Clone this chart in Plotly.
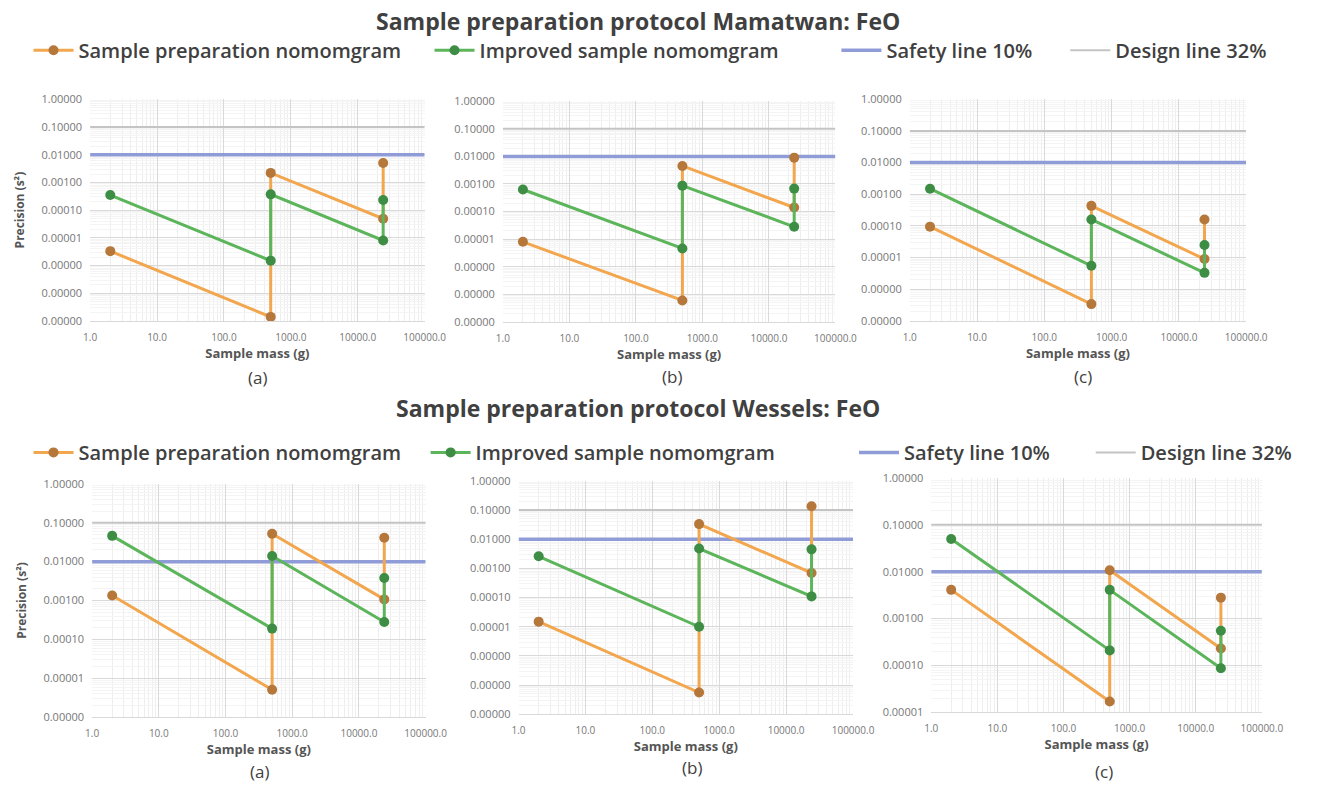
import plotly.graph_objects as go

# Sample masses of the three preparation stages (each step drawn twice to give the vertical jumps)
mass_steps = [2, 500, 500, 24000, 24000]
mass_range = [1, 100000]

# Precision (s^2) values, Mamatwan FeO protocol
mam_a_prep = [3.3e-6, 1.4e-8, 2.2e-3, 4.9e-5, 5.0e-3]
mam_a_impr = [3.5e-4, 1.5e-6, 3.7e-4, 8.0e-6, 2.3e-4]
mam_b_prep = [8.0e-6, 6.0e-8, 4.5e-3, 1.4e-4, 9.0e-3]
mam_b_impr = [6.3e-4, 4.6e-6, 8.7e-4, 2.8e-5, 6.8e-4]
mam_c_prep = [9.5e-5, 3.4e-7, 4.3e-4, 9.0e-6, 1.6e-4]
mam_c_impr = [1.5e-3, 5.5e-6, 1.6e-4, 3.3e-6, 2.5e-5]

# Precision (s^2) values, Wessels FeO protocol
wes_a_prep = [1.35e-3, 5.1e-6, 0.052, 1.07e-3, 0.041]
wes_a_impr = [0.046, 1.9e-4, 0.014, 2.8e-4, 3.8e-3]
wes_b_prep = [1.5e-5, 5.6e-8, 0.033, 7.0e-4, 0.135]
wes_b_impr = [2.6e-3, 1.0e-5, 4.8e-3, 1.1e-4, 4.5e-3]
wes_c_prep = [4.1e-3, 1.7e-5, 0.0107, 2.3e-4, 2.8e-3]
wes_c_impr = [0.05, 2.1e-4, 4.1e-3, 8.7e-5, 5.5e-4]

safety_level = 0.01   # 10% relative error -> s^2 = 0.01
design_level = 0.1    # 32% relative error -> s^2 ~ 0.1

panel_letters = ["(a)", "(b)", "(c)", "(a)", "(b)", "(c)"]
y_decades = [-8, -8, -7, -6, -8, -5]

titles = ["Sample preparation protocol Mamatwan: FeO",
          "Sample preparation protocol Wessels: FeO"]
legend_names = ["Sample preparation nomomgram", "Improved sample nomomgram",
                "Safety line 10%", "Design line 32%"]

W, H = 1322, 791

# pixel boxes of the six plot areas: (left, right, top, bottom)
boxes = [
    (85, 427, 93, 319),
    (507, 847, 95, 320),
    (923, 1267, 93, 319),
    (87, 428, 485, 723),
    (523, 865, 482, 720),
    (945, 1283, 479, 718),
]

panels = [
    (mam_a_prep, mam_a_impr), (mam_b_prep, mam_b_impr), (mam_c_prep, mam_c_impr),
    (wes_a_prep, wes_a_impr), (wes_b_prep, wes_b_impr), (wes_c_prep, wes_c_impr),
]

ORANGE_LINE = "#f2a64e"
ORANGE_MARK = "#b5773a"
GREEN_LINE = "#5cb55a"
GREEN_MARK = "#3e8d44"
SAFETY = "#8f9cd8"
DESIGN = "#c4c4c4"
TEXT = "#404040"
TICK = "#777777"
FONT = "Open Sans"

fig = go.Figure()
layout = {}

for i, (prep, impr) in enumerate(panels):
    n = "" if i == 0 else str(i + 1)
    xa, ya = "x" + n, "y" + n
    row = 0 if i < 3 else 1
    first = i % 3 == 0
    leg_base = 4 * row

    def lg(k):
        idx = leg_base + k
        return "legend" if idx == 0 else "legend" + str(idx + 1)

    fig.add_trace(go.Scatter(
        x=mass_range, y=[design_level] * 2, xaxis=xa, yaxis=ya, mode="lines",
        line=dict(color=DESIGN, width=2), name=legend_names[3],
        showlegend=first, legend=lg(3), hoverinfo="skip"))
    fig.add_trace(go.Scatter(
        x=mass_range, y=[safety_level] * 2, xaxis=xa, yaxis=ya, mode="lines",
        line=dict(color=SAFETY, width=3.5), name=legend_names[2],
        showlegend=first, legend=lg(2), hoverinfo="skip"))
    fig.add_trace(go.Scatter(
        x=mass_steps, y=prep, xaxis=xa, yaxis=ya, mode="lines+markers",
        line=dict(color=ORANGE_LINE, width=3),
        marker=dict(color=ORANGE_MARK, size=10),
        name=legend_names[0], showlegend=first, legend=lg(0)))
    fig.add_trace(go.Scatter(
        x=mass_steps, y=impr, xaxis=xa, yaxis=ya, mode="lines+markers",
        line=dict(color=GREEN_LINE, width=3),
        marker=dict(color=GREEN_MARK, size=10),
        name=legend_names[1], showlegend=first, legend=lg(1)))

    l, r, t, b = boxes[i]
    key = "" if i == 0 else str(i + 1)
    layout["xaxis" + key] = dict(
        type="log", range=[0, 5], domain=[l / W, r / W], anchor=ya,
        dtick=1, tickformat=".1f", showline=True, linecolor="#d9d9d9",
        gridcolor="#d9d9d9", gridwidth=1, zeroline=False, ticks="",
        ticklabelstandoff=7,
        tickfont=dict(family=FONT, size=10, color=TICK),
        minor=dict(showgrid=True, gridcolor="#eeeeee", dtick="D1"),
        title=dict(text="Sample mass (g)", standoff=2,
                   font=dict(family=FONT, size=13, color="#555555", weight="bold")),
    )
    layout["yaxis" + key] = dict(
        type="log", range=[y_decades[i], 0], domain=[1 - b / H, 1 - t / H], anchor=xa,
        dtick=1, tickformat=".5f", showline=False,
        gridcolor="#d9d9d9", gridwidth=1, zeroline=False, ticks="",
        ticklabelstandoff=7,
        tickfont=dict(family=FONT, size=11, color=TICK),
        minor=dict(showgrid=True, gridcolor="#f4f4f4", dtick="D1"),
        title=dict(text="Precision (s²)" if first else "", standoff=14,
                   font=dict(family=FONT, size=12, color="#555555", weight="bold")),
    )

annotations = []
# Protocol titles
for row, ty in enumerate([13, 408]):
    annotations.append(dict(
        text=titles[row], x=645 / W, y=1 - ty / H, xref="paper", yref="paper",
        xanchor="center", yanchor="middle", showarrow=False,
        font=dict(family=FONT, size=23, color=TEXT, weight="bold")))
# Panel letters under each x-axis title
letter_pos = [(256, 377), (680, 376), (1100, 376), (258, 778), (700, 774), (1122, 778)]
for i, (px, py) in enumerate(letter_pos):
    annotations.append(dict(
        text=panel_letters[i], x=px / W, y=1 - py / H, xref="paper", yref="paper",
        xanchor="center", yanchor="middle", showarrow=False,
        font=dict(family=FONT, size=17, color=TEXT)))

# One legend per entry so the entries can sit at their own positions
legend_x = [[22, 432, 848, 1082], [22, 428, 866, 1108]]
legend_y = [43, 453]
for row in range(2):
    for k in range(4):
        idx = 4 * row + k
        name = "legend" if idx == 0 else "legend" + str(idx + 1)
        layout[name] = dict(
            x=legend_x[row][k] / W, y=1 - legend_y[row] / H,
            xanchor="left", yanchor="middle", orientation="h",
            bgcolor="rgba(0,0,0,0)", borderwidth=0, itemwidth=40,
            font=dict(family=FONT, size=20, color=TEXT, weight=600),
        )

fig.update_layout(
    width=W, height=H, margin=dict(l=0, r=0, t=0, b=0),
    paper_bgcolor="white", plot_bgcolor="white",
    annotations=annotations, hovermode="closest",
    **layout,
)

fig.write_html("out.html")
